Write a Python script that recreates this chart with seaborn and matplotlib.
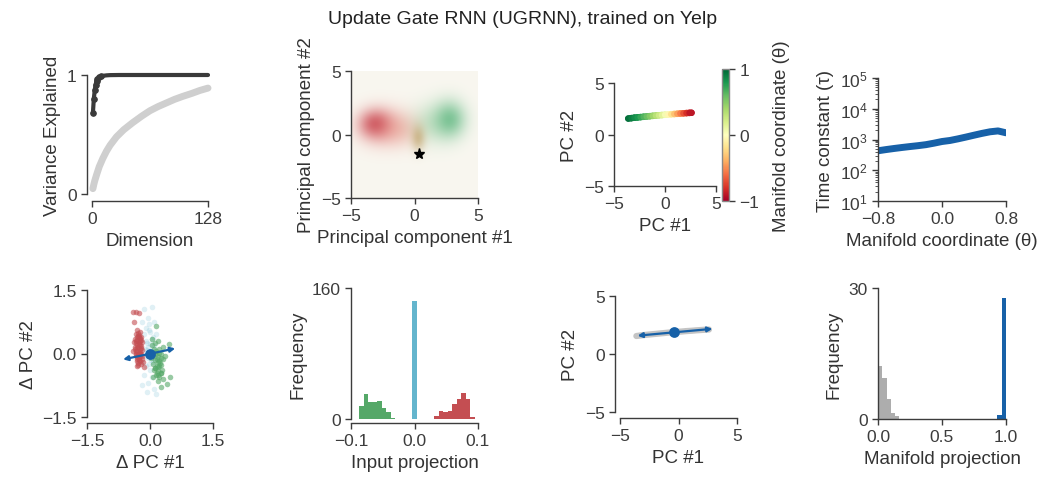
import numpy as np
import pandas as pd
import matplotlib
matplotlib.use("Agg")
import matplotlib.pyplot as plt
import seaborn as sns
from matplotlib.collections import LineCollection
from matplotlib.colors import Normalize, to_rgb
from matplotlib.cm import ScalarMappable
from matplotlib.ticker import LogLocator, NullFormatter

# ---------------- data ----------------
# variance explained
state_dims = [1, 2, 3, 4, 5, 6, 8, 10, 13, 16, 20, 30, 50, 80, 128]
state_var = [0.68, 0.80, 0.87, 0.92, 0.95, 0.965, 0.98, 0.988, 0.994, 0.997, 0.999, 1.0, 1.0, 1.0, 1.0]
shuffled_dims = [1, 2, 3, 5, 8, 12, 16, 20, 27, 35, 45, 55, 64, 73, 82, 91, 100, 110, 119, 128]
shuffled_var = [0.045, 0.08, 0.11, 0.16, 0.23, 0.30, 0.36, 0.41, 0.48, 0.54, 0.60, 0.655,
                0.70, 0.735, 0.765, 0.795, 0.82, 0.845, 0.87, 0.89]

# state density blobs in PC space: centre, spread, colour, peak opacity
blob_cx = [-2.5, -3.1, -1.0, 1.4, 2.8, 0.3]
blob_cy = [0.6, 0.85, 0.4, 0.9, 1.2, -0.3]
blob_sx = [1.3, 0.85, 1.1, 1.1, 0.85, 0.38]
blob_sy = [1.0, 0.75, 0.9, 1.1, 1.0, 0.7]
blob_color = ["#e06262", "#c43a46", "#e8917f", "#85c995", "#3aa866", "#b08a40"]
blob_alpha = [0.45, 0.7, 0.35, 0.38, 0.6, 0.45]
fixed_point = (0.35, -1.5)

# line attractor in PC space, coloured by manifold coordinate
manifold_pc1 = [-3.6, -3.3, -3.0, -2.7, -2.4, -2.1, -1.8, -1.5, -1.2, -0.9, -0.6, -0.3,
                0.0, 0.3, 0.6, 0.9, 1.2, 1.5, 1.8, 2.1, 2.4, 2.6]
manifold_pc2 = [1.55, 1.59, 1.63, 1.66, 1.69, 1.72, 1.75, 1.78, 1.81, 1.84, 1.87, 1.89,
                1.92, 1.94, 1.97, 1.99, 2.01, 2.04, 2.06, 2.08, 2.10, 2.11]
manifold_theta = [0.98, 0.93, 0.88, 0.82, 0.76, 0.69, 0.62, 0.54, 0.46, 0.37, 0.28, 0.19,
                  0.10, 0.0, -0.12, -0.25, -0.38, -0.5, -0.62, -0.74, -0.86, -0.95]

# time constants along the manifold
tau_theta = [-0.8, -0.7, -0.6, -0.5, -0.4, -0.3, -0.2, -0.1, 0.0, 0.1, 0.2, 0.3, 0.4,
             0.5, 0.6, 0.7, 0.8]
tau_values = [430, 470, 510, 550, 590, 630, 680, 760, 860, 930, 1050, 1200, 1380,
              1580, 1780, 1900, 1650]

# input-driven state changes (delta PC)
neg_dpc1 = [-0.30, -0.25, -0.33, -0.28, -0.22, -0.35, -0.30, -0.24, -0.20, -0.33, -0.27,
            -0.22, -0.36, -0.30, -0.25, -0.19, -0.33, -0.27, -0.21, -0.30, -0.24, -0.18,
            -0.32, -0.26, -0.20, -0.28, -0.22, -0.30, -0.17, -0.38, -0.40, -0.40, -0.33,
            -0.27, -0.37, -0.15, -0.26, -0.31,
            -0.29, -0.23, -0.31, -0.26, -0.34, -0.28, -0.21, -0.32, -0.25, -0.29, -0.23,
            -0.35, -0.27, -0.31, -0.24, -0.28, -0.33, -0.26, -0.22, -0.30, -0.25, -0.34]
neg_dpc2 = [0.55, 0.50, 0.45, 0.42, 0.40, 0.35, 0.32, 0.30, 0.27, 0.24, 0.22, 0.18, 0.15,
            0.12, 0.10, 0.08, 0.05, 0.02, 0.00, -0.05, -0.07, -0.05, -0.12, -0.15, -0.12,
            -0.22, -0.25, -0.30, -0.20, 0.28, 0.05, 0.97, 0.98, 0.96, 0.75, -0.32, 0.38, -0.18,
            0.48, 0.36, 0.38, 0.26, 0.30, 0.16, 0.13, 0.20, 0.04, -0.01, -0.02, 0.10,
            -0.10, -0.08, -0.18, -0.28, 0.00, 0.44, 0.33, 0.07, 0.20, -0.02]
pos_dpc1 = [0.05, 0.12, 0.20, 0.22, 0.15, 0.30, 0.45, 0.08, 0.18, 0.25, 0.12, 0.22, 0.30,
            0.08, 0.16, 0.25, 0.10, 0.20, 0.28, 0.14, 0.22, 0.08, 0.18, 0.30, 0.48, 0.40,
            0.25, 0.05, 0.15, 0.02, 0.35, 0.10, 0.20, 0.26, 0.12,
            0.14, 0.22, 0.18, 0.26, 0.12, 0.19, 0.24, 0.16, 0.21, 0.13, 0.27, 0.17]
pos_dpc2 = [0.20, 0.25, 0.30, 0.10, 0.05, 0.15, 0.22, -0.05, -0.08, -0.02, -0.15, -0.18,
            -0.12, -0.25, -0.30, -0.28, -0.40, -0.42, -0.38, -0.50, -0.55, -0.55, -0.65,
            -0.60, -0.55, -0.72, -0.80, 0.35, 0.65, -0.10, -0.05, 0.10, -0.50, -0.45, -0.35,
            -0.02, 0.02, -0.20, -0.10, -0.35, -0.33, -0.22, -0.12, -0.30, 0.02, -0.45, -0.45]
neu_dpc1 = [-0.15, 0.05, -0.05, -0.20, -0.10, 0.00, -0.15, 0.05, -0.08, 0.10, -0.12, 0.02,
            -0.05, 0.08, -0.10, 0.00, -0.15, 0.05, -0.05, -0.20, 0.10, -0.08, 0.15, -0.25,
            0.15, -0.02, 0.10, -0.18, 0.12, -0.02, -0.05, 0.03,
            -0.10, 0.00, 0.06, -0.06, -0.12, 0.02, 0.08, -0.03]
neu_dpc2 = [1.05, 1.10, 0.85, 0.75, 0.60, 0.50, 0.45, 0.35, 0.25, 0.20, 0.10, 0.05, -0.10,
            -0.20, -0.30, -0.40, -0.50, -0.55, -0.70, -0.75, -0.85, -0.90, -0.95, 0.35,
            0.45, 0.70, 0.75, -0.20, -0.10, -0.25, 0.15, -0.05,
            0.30, 0.22, 0.12, 0.08, -0.05, -0.15, 0.40, 0.55]
readout_dpc_start = (-0.64, -0.14)
readout_dpc_end = (0.60, 0.12)

# projection of input changes onto the readout
input_bin_width = 0.0071
neg_proj_left = -0.0874
neg_proj_counts = [16, 31, 21, 21, 22, 14, 9, 1]
neu_proj_center = 0.0
neu_proj_counts = [144]
pos_proj_left = 0.0307
pos_proj_counts = [4, 10, 9, 10, 18, 24, 32, 24, 2]

# readout on the manifold
readout_pc_start = (-3.5, 1.58)
readout_pc_end = (2.9, 2.17)
readout_pc_point = (-0.35, 1.92)

# projection of eigenvectors onto the manifold (30 bins on [0, 1])
manifold_bins = 30
other_bin_index = [0, 1, 2, 3, 4]
other_counts = [12.2, 9.4, 4.6, 1.4, 0.7]
top_bin_index = [28, 29]
top_counts = [0.9, 27.7]

# ---------------- style ----------------
sns.set_style("ticks")
ink = "#3c3c3c"
plt.rcParams.update({
    "font.family": ["Liberation Sans", "DejaVu Sans"],
    "font.size": 13.5,
    "axes.labelsize": 13.5,
    "xtick.labelsize": 12.5,
    "ytick.labelsize": 12.5,
    "mathtext.fontset": "custom",
    "mathtext.rm": "Liberation Sans",
    "mathtext.it": "Liberation Sans:italic",
    "axes.edgecolor": ink,
    "axes.linewidth": 1.0,
    "xtick.color": ink,
    "ytick.color": ink,
    "text.color": "#333333",
    "axes.labelcolor": "#333333",
    "xtick.major.size": 4,
    "ytick.major.size": 4,
    "xtick.major.width": 1.0,
    "ytick.major.width": 1.0,
    "xtick.minor.size": 2,
    "ytick.minor.size": 2,
    "axes.labelpad": 4,
})

DARK_BLUE = "#1761a8"
RED = "#c44e52"
GREEN = "#55a868"
LIGHT_BLUE = "#64b5cd"

W, H = 1045, 481
fig = plt.figure(figsize=(W / 100, H / 100), dpi=100)


def add_axes(x0, y0, x1, y1):
    return fig.add_axes([x0 / W, 1 - y1 / H, (x1 - x0) / W, (y1 - y0) / H])


def style(ax, left=0, bottom=0):
    sns.despine(ax=ax)
    ax.spines["left"].set_position(("outward", left * 0.72))
    ax.spines["bottom"].set_position(("outward", bottom * 0.72))


def hist_from_counts(ax, left, counts, width, color):
    n = len(counts)
    lo = float(left)
    hi = float(left + width * n)
    centers = [lo + width * (i + 0.5) for i in range(n)]
    table = pd.DataFrame({"value": centers, "count": [float(c) for c in counts]})
    sns.histplot(data=table, x="value", weights="count", bins=n, binrange=(lo, hi),
                 color=color, alpha=1, linewidth=0, ax=ax)


fig.text(0.5, 1 - 19 / H, "Update Gate RNN (UGRNN), trained on Yelp",
         ha="center", va="center", fontsize=14, color="#222222")

# ---- variance explained ----
ax = add_axes(92, 76, 208, 195)
sns.lineplot(x=shuffled_dims, y=shuffled_var, color="#cfcfcf", lw=5,
             solid_capstyle="round", clip_on=False, ax=ax)
sns.lineplot(x=state_dims, y=state_var, color="#3a3a3a", lw=3, marker="o", ms=4,
             mec="#3a3a3a", markevery=list(range(8)), solid_capstyle="round",
             clip_on=False, ax=ax)
ax.set_xlim(0, 128)
ax.set_ylim(0, 1)
ax.set_xticks([0, 128])
ax.set_yticks([0, 1])
ax.set_xlabel("Dimension")
ax.set_ylabel("Variance Explained")
style(ax, left=5, bottom=7)

# ---- state density ----
ax = add_axes(351, 72, 478, 199)
grid = np.linspace(-5, 5, 320)
GX, GY = np.meshgrid(grid, grid)
img = np.ones((grid.size, grid.size, 3)) * np.array(to_rgb("#f9f7f0"))
for cx, cy, sx, sy, col, a in zip(blob_cx, blob_cy, blob_sx, blob_sy, blob_color, blob_alpha):
    alpha = a * np.exp(-0.5 * (((GX - cx) / sx) ** 2 + ((GY - cy) / sy) ** 2))
    img = img * (1 - alpha[..., None]) + np.array(to_rgb(col)) * alpha[..., None]
ax.imshow(img, extent=(-5, 5, -5, 5), origin="lower", aspect="auto", interpolation="bilinear")
ax.plot([fixed_point[0]], [fixed_point[1]], marker="*", color="black", ms=8, ls="none")
ax.set_xlim(-5, 5)
ax.set_ylim(-5, 5)
ax.set_xticks([-5, 0, 5])
ax.set_yticks([-5, 0, 5])
ax.set_xticklabels(["\u22125", "0", "5"])
ax.set_yticklabels(["\u22125", "0", "5"])
ax.set_xlabel("Principal component #1")
ax.set_ylabel("Principal component #2")
style(ax)

# ---- line attractor coloured by manifold coordinate ----
ax = add_axes(614, 84, 716, 187)
norm = Normalize(-1, 1)
cmap = plt.get_cmap("RdYlGn")
pts = np.column_stack([manifold_pc1, manifold_pc2])
segs = np.stack([pts[:-1], pts[1:]], axis=1)
seg_theta = 0.5 * (np.array(manifold_theta[:-1]) + np.array(manifold_theta[1:]))
lc = LineCollection(segs, colors=cmap(norm(seg_theta)), linewidths=4.6, capstyle="round")
ax.add_collection(lc)
sns.scatterplot(x=manifold_pc1, y=manifold_pc2, hue=manifold_theta, palette="RdYlGn",
                hue_norm=norm, s=22, linewidth=0, legend=False, ax=ax)
ax.set_xlim(-5, 5)
ax.set_ylim(-5, 5)
ax.set_xticks([-5, 0, 5])
ax.set_yticks([-5, 0, 5])
ax.set_xticklabels(["\u22125", "0", "5"])
ax.set_yticklabels(["\u22125", "0", "5"])
ax.set_xlabel("PC #1")
ax.set_ylabel("PC #2")
style(ax)

cax = add_axes(722, 70, 729, 202)
cb = fig.colorbar(ScalarMappable(norm=norm, cmap=cmap), cax=cax, ticks=[-1, 0, 1])
cb.outline.set_edgecolor("#888888")
cb.outline.set_linewidth(1.0)
cb.ax.set_yticklabels(["\u22121", "0", "1"])
cb.set_label("Manifold coordinate (\u03b8)", labelpad=10)

# ---- time constants ----
ax = add_axes(878, 79, 1006, 202)
sns.lineplot(x=tau_theta, y=tau_values, color=DARK_BLUE, lw=5, ax=ax)
ax.set_yscale("log")
ax.set_ylim(10, 1e5)
ax.set_xlim(-0.8, 0.8)
ax.set_xticks([-0.8, 0.0, 0.8])
ax.set_xticklabels(["\u22120.8", "0.0", "0.8"])
ax.yaxis.set_minor_locator(LogLocator(base=10, subs=np.arange(2, 10), numticks=20))
ax.yaxis.set_minor_formatter(NullFormatter())
ax.set_yticks([10, 100, 1000, 1e4, 1e5])
ax.set_yticklabels([r"$10^{1}$", r"$10^{2}$", r"$10^{3}$", r"$10^{4}$", r"$10^{5}$"])
ax.set_xlabel("Manifold coordinate (\u03b8)")
ax.set_ylabel("Time constant (\u03c4)")
style(ax)

# ---- input-driven state changes ----
ax = add_axes(87, 291, 213, 418)
sns.scatterplot(x=neu_dpc1, y=neu_dpc2, color=LIGHT_BLUE, alpha=0.2, s=16, linewidth=0, ax=ax)
sns.scatterplot(x=neg_dpc1, y=neg_dpc2, color=RED, alpha=0.6, s=16, linewidth=0, ax=ax)
sns.scatterplot(x=pos_dpc1, y=pos_dpc2, color=GREEN, alpha=0.6, s=16, linewidth=0, ax=ax)
ax.annotate("", xy=readout_dpc_end, xytext=readout_dpc_start,
            arrowprops=dict(arrowstyle="<|-|>", color=DARK_BLUE, lw=1.6,
                            mutation_scale=7, shrinkA=0, shrinkB=0))
sns.scatterplot(x=[0.0], y=[0.0], color=DARK_BLUE, s=60, linewidth=0, ax=ax, zorder=5)
ax.set_xlim(-1.5, 1.5)
ax.set_ylim(-1.5, 1.5)
ax.set_xticks([-1.5, 0, 1.5])
ax.set_yticks([-1.5, 0, 1.5])
ax.set_xticklabels(["\u22121.5", "0.0", "1.5"])
ax.set_yticklabels(["\u22121.5", "0.0", "1.5"])
ax.set_xlabel("\u0394 PC #1")
ax.set_ylabel("\u0394 PC #2")
style(ax, bottom=6)

# ---- input projection histogram ----
ax = add_axes(351, 289, 478, 420)
hist_from_counts(ax, neg_proj_left, neg_proj_counts, input_bin_width, GREEN)
hist_from_counts(ax, neu_proj_center - input_bin_width / 2, neu_proj_counts, input_bin_width, LIGHT_BLUE)
hist_from_counts(ax, pos_proj_left, pos_proj_counts, input_bin_width, RED)
ax.set_xlim(-0.1, 0.1)
ax.set_ylim(0, 160)
ax.set_xticks([-0.1, 0.0, 0.1])
ax.set_xticklabels(["\u22120.1", "0.0", "0.1"])
ax.set_yticks([0, 160])
ax.set_xlabel("Input projection")
ax.set_ylabel("Frequency")
style(ax, bottom=4)

# ---- readout on the manifold ----
ax = add_axes(620, 297, 737, 413)
sns.lineplot(x=manifold_pc1, y=manifold_pc2, color="#c4c4c4", lw=4.5,
             solid_capstyle="round", ax=ax)
ax.annotate("", xy=readout_pc_end, xytext=readout_pc_start,
            arrowprops=dict(arrowstyle="<|-|>", color=DARK_BLUE, lw=1.6,
                            mutation_scale=7, shrinkA=0, shrinkB=0))
sns.scatterplot(x=[readout_pc_point[0]], y=[readout_pc_point[1]], color=DARK_BLUE, s=60,
                linewidth=0, ax=ax, zorder=5)
ax.set_xlim(-5, 5)
ax.set_ylim(-5, 5)
ax.set_xticks([-5, 0, 5])
ax.set_yticks([-5, 0, 5])
ax.set_xticklabels(["\u22125", "0", "5"])
ax.set_yticklabels(["\u22125", "0", "5"])
ax.set_xlabel("PC #1")
ax.set_ylabel("PC #2")
style(ax, left=5, bottom=6)

# ---- manifold projection histogram ----
ax = add_axes(878, 289, 1006, 420)
bw = 1.0 / manifold_bins
hist_from_counts(ax, other_bin_index[0] * bw, other_counts, bw, "#adadad")
hist_from_counts(ax, top_bin_index[0] * bw, top_counts, bw, DARK_BLUE)
ax.set_xlim(0, 1)
ax.set_ylim(0, 30)
ax.set_xticks([0, 0.5, 1.0])
ax.set_xticklabels(["0.0", "0.5", "1.0"])
ax.set_yticks([0, 30])
ax.set_xlabel("Manifold projection")
ax.set_ylabel("Frequency")
style(ax)

fig.savefig("out.png", dpi=100)
